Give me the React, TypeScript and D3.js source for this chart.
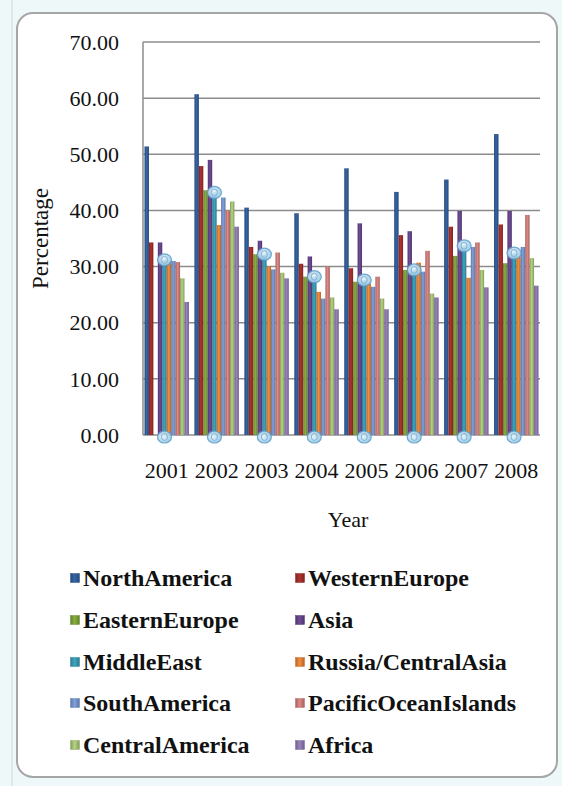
import React from "react";
import * as d3 from "d3";

const years = ["2001", "2002", "2003", "2004", "2005", "2006", "2007", "2008"];
const seriesNames = [
  "NorthAmerica",
  "WesternEurope",
  "EasternEurope",
  "Asia",
  "MiddleEast",
  "Russia/CentralAsia",
  "SouthAmerica",
  "PacificOceanIslands",
  "CentralAmerica",
  "Africa",
];
const northAmerica = [51.4, 60.7, 40.5, 39.5, 47.5, 43.3, 45.5, 53.6];
const westernEurope = [34.3, 47.9, 33.5, 30.5, 29.7, 35.6, 37.1, 37.5];
const easternEurope = [0, 43.6, 32.2, 28.2, 27.3, 29.4, 31.9, 30.6];
const asia = [34.3, 49.0, 34.6, 31.8, 37.7, 36.3, 39.9, 39.9];
const middleEast = [31.2, 43.2, 32.2, 28.2, 27.6, 29.4, 33.7, 32.4];
const russiaCentralAsia = [31.0, 37.4, 30.0, 25.5, 27.0, 30.7, 28.0, 31.8];
const southAmerica = [31.0, 42.3, 29.5, 24.3, 26.4, 29.1, 33.5, 33.5];
const pacificOceanIslands = [30.8, 40.0, 32.5, 30.0, 28.2, 32.8, 34.3, 39.2];
const centralAmerica = [27.9, 41.6, 28.9, 24.5, 24.3, 25.2, 29.4, 31.5];
const africa = [23.7, 37.1, 27.9, 22.4, 22.4, 24.5, 26.3, 26.6];
const seriesValues = [
  northAmerica,
  westernEurope,
  easternEurope,
  asia,
  middleEast,
  russiaCentralAsia,
  southAmerica,
  pacificOceanIslands,
  centralAmerica,
  africa,
];
const yTicks = [0, 10, 20, 30, 40, 50, 60, 70];
const selectedSeries = "MiddleEast";

const colors = [
  "#2f5b95",
  "#9e2d2a",
  "#7a9e38",
  "#634487",
  "#3795ae",
  "#dc7f35",
  "#7391c8",
  "#c97a77",
  "#a2bf74",
  "#8a76aa",
];

const W = 562;
const H = 786;
const plotLeft = 143;
const plotRight = 540;
const plotTop = 42;
const plotBottom = 435;

export default function App() {
  const x0 = d3
    .scaleBand<string>()
    .domain(years)
    .range([plotLeft, plotRight])
    .paddingInner(0.11)
    .paddingOuter(0.03);
  const x1 = d3
    .scaleBand<string>()
    .domain(seriesNames)
    .range([0, x0.bandwidth()]);
  const y = d3.scaleLinear().domain([0, 70]).range([plotBottom, plotTop]);
  const fmt = d3.format(".2f");
  const serif = "'Liberation Serif', 'Times New Roman', serif";
  const selIdx = seriesNames.indexOf(selectedSeries);

  const legendRows = [578, 620, 662, 703, 745];
  const legendCols = [75, 300];

  return (
    <svg
      width={W}
      height={H}
      style={{ position: "absolute", left: 0, top: 0 }}
      fontFamily={serif}
    >
      <defs>
        {colors.map((c, i) => {
          const dark = d3.color(c)!.darker(0.6).formatHex();
          const light = d3.color(c)!.brighter(0.3).formatHex();
          return (
            <linearGradient key={i} id={`g${i}`} x1="0" x2="1" y1="0" y2="0">
              <stop offset="0" stopColor={dark} />
              <stop offset="0.45" stopColor={light} />
              <stop offset="1" stopColor={dark} />
            </linearGradient>
          );
        })}
        <radialGradient id="handle" cx="0.4" cy="0.4" r="0.7">
          <stop offset="0" stopColor="#e8f5fc" />
          <stop offset="1" stopColor="#8cc3e4" />
        </radialGradient>
      </defs>
      <rect x={0} y={0} width={W} height={H} fill="#eef8f9" />
      <line x1={12} x2={12} y1={0} y2={H} stroke="#c9dade" />
      <rect
        x={17}
        y={13}
        width={540}
        height={764}
        rx={16}
        ry={16}
        fill="#ffffff"
        stroke="#a6a6a6"
        strokeWidth={2}
      />

      {/* gridlines */}
      {yTicks.map((t) => (
        <line
          key={t}
          x1={plotLeft}
          x2={plotRight}
          y1={y(t)}
          y2={y(t)}
          stroke="#8c8c8c"
          strokeWidth={1.5}
        />
      ))}
      <line
        x1={plotLeft}
        x2={plotLeft}
        y1={plotTop}
        y2={plotBottom}
        stroke="#8c8c8c"
        strokeWidth={1.5}
      />

      {/* bars */}
      {years.map((yr, yi) => (
        <g key={yr} transform={`translate(${x0(yr)},0)`}>
          {seriesNames.map((s, si) => {
            const v = seriesValues[si][yi];
            if (!v) return null;
            return (
              <rect
                key={s}
                x={x1(s)}
                y={y(v)}
                width={x1.bandwidth()}
                height={y(0) - y(v)}
                fill={`url(#g${si})`}
              />
            );
          })}
        </g>
      ))}

      {/* selection handles on the selected series */}
      {years.map((yr, yi) => {
        const cx = (x0(yr) ?? 0) + (x1(selectedSeries) ?? 0) + x1.bandwidth() / 2;
        const v = seriesValues[selIdx][yi];
        return (
          <g key={yr}>
            {[y(v), y(0) + 2].map((cy, k) => (
              <g key={k}>
                <ellipse
                  cx={cx}
                  cy={cy}
                  rx={7}
                  ry={6}
                  fill="url(#handle)"
                  stroke="#5f9fcc"
                  strokeWidth={1.2}
                  opacity={0.9}
                />
                <ellipse
                  cx={cx}
                  cy={cy}
                  rx={3}
                  ry={3.5}
                  fill="none"
                  stroke="#7fb3d6"
                  strokeWidth={1}
                />
              </g>
            ))}
          </g>
        );
      })}

      {/* y tick labels */}
      {yTicks.map((t) => (
        <text
          key={t}
          x={119}
          y={y(t)}
          dy="0.35em"
          textAnchor="end"
          fontSize={22}
          fill="#111"
        >
          {fmt(t)}
        </text>
      ))}

      {/* x tick labels */}
      {years.map((yr) => (
        <text
          key={yr}
          x={(x0(yr) ?? 0) + x0.bandwidth() / 2}
          y={470}
          dy="0.35em"
          textAnchor="middle"
          fontSize={22}
          fill="#111"
        >
          {yr}
        </text>
      ))}

      {/* axis titles */}
      <text
        x={348}
        y={519}
        dy="0.35em"
        textAnchor="middle"
        fontSize={22}
        fill="#111"
      >
        Year
      </text>
      <text
        transform={`translate(40,${(plotTop + plotBottom) / 2}) rotate(-90)`}
        dy="0.35em"
        textAnchor="middle"
        fontSize={23}
        fill="#111"
      >
        Percentage
      </text>

      {/* legend */}
      {seriesNames.map((s, i) => {
        const row = Math.floor(i / 2);
        const col = i % 2;
        const lx = legendCols[col];
        const ly = legendRows[row];
        return (
          <g key={s}>
            <rect
              x={lx - 4.5}
              y={ly - 4.5}
              width={9}
              height={9}
              fill={`url(#g${i})`}
              stroke={d3.color(colors[i])!.darker(0.3).formatHex()}
              strokeWidth={0.5}
            />
            <text
              x={lx + 8}
              y={ly}
              dy="0.35em"
              fontSize={24}
              fontWeight="bold"
              fill="#111"
            >
              {s}
            </text>
          </g>
        );
      })}
    </svg>
  );
}
